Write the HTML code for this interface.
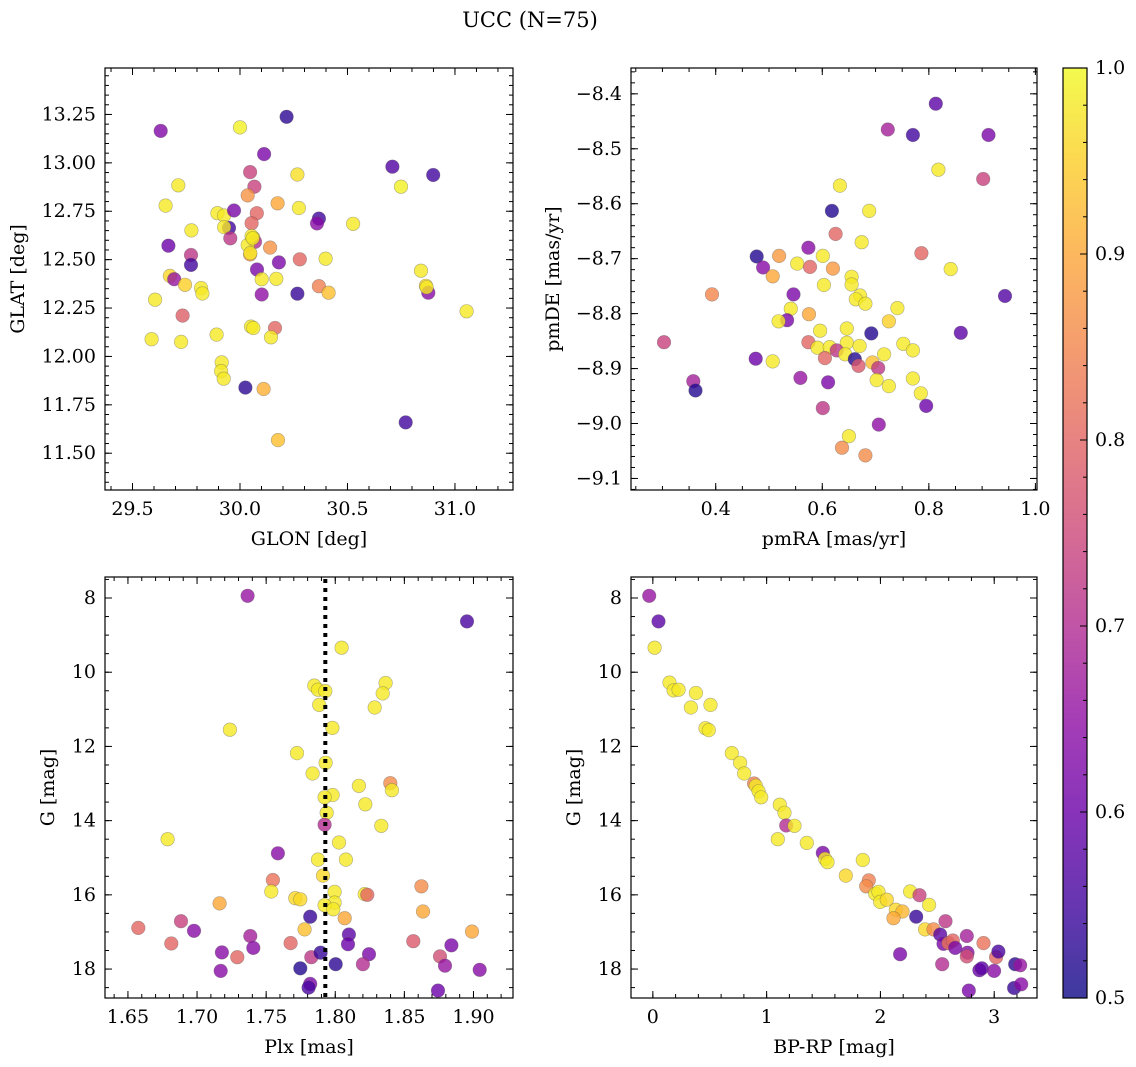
<!DOCTYPE html>
<html><head><meta charset="utf-8"><style>
html,body{margin:0;padding:0;background:#fff}
svg{display:block;font-family:"DejaVu Serif","Liberation Serif",serif}
</style></head><body>
<svg id="fig" width="1136" height="1067" viewBox="0 0 1136 1067" xmlns="http://www.w3.org/2000/svg">
<defs>
<linearGradient id="cbgrad" x1="0" y1="1" x2="0" y2="0">
<stop offset="0" stop-color="#0d0887"/><stop offset="0.1" stop-color="#41049d"/><stop offset="0.2" stop-color="#6a00a8"/><stop offset="0.3" stop-color="#8f0da4"/><stop offset="0.4" stop-color="#b12a90"/><stop offset="0.5" stop-color="#cc4778"/><stop offset="0.6" stop-color="#e16462"/><stop offset="0.7" stop-color="#f2844b"/><stop offset="0.8" stop-color="#fca636"/><stop offset="0.9" stop-color="#fcce25"/><stop offset="1" stop-color="#f0f921"/>
</linearGradient>
</defs>
<text x="530" y="27" font-size="21" text-anchor="middle">UCC (N=75)</text>
</svg>
<script>
// ---- Panel 1 data: GLON / GLAT / probability
const p1Lon=[29.631,30.000,30.217,30.112,30.709,30.899,30.749,30.267,30.047,30.067,30.036,30.175,29.713,29.654,30.274,29.895,29.926,29.972,30.078,30.054,30.367,30.358,30.526,29.949,29.926,29.774,29.955,30.062,30.070,30.036,30.140,30.047,30.048,29.667,29.772,29.772,30.181,30.278,30.398,30.079,30.101,30.169,29.674,29.694,29.744,29.819,29.825,30.101,30.267,30.367,30.412,30.842,30.865,30.876,29.605,31.054,29.733,29.589,29.726,29.891,30.051,30.062,30.163,30.144,29.915,29.912,29.924,30.025,30.110,30.771,30.177,30.054,30.059,30.868];
const p1Lat=[13.165,13.183,13.238,13.045,12.980,12.937,12.877,12.940,12.952,12.877,12.832,12.791,12.884,12.779,12.767,12.740,12.728,12.754,12.740,12.688,12.712,12.687,12.685,12.664,12.668,12.651,12.610,12.613,12.592,12.575,12.562,12.527,12.534,12.572,12.524,12.473,12.486,12.502,12.505,12.449,12.399,12.401,12.416,12.399,12.370,12.353,12.325,12.320,12.324,12.363,12.329,12.443,12.365,12.329,12.293,12.233,12.211,12.089,12.075,12.113,12.154,12.147,12.147,12.099,11.969,11.924,11.885,11.839,11.832,11.659,11.568,12.622,12.610,12.357];
const p1Prob=[0.63,0.99,0.53,0.62,0.57,0.55,0.99,0.97,0.74,0.74,0.87,0.90,0.98,0.98,0.98,0.98,0.98,0.62,0.80,0.80,0.55,0.64,0.98,0.55,0.98,0.98,0.72,0.96,0.70,0.98,0.87,0.88,0.98,0.60,0.72,0.55,0.62,0.80,0.98,0.62,0.98,0.98,0.96,0.66,0.95,0.98,0.98,0.65,0.54,0.84,0.93,0.98,0.96,0.64,0.98,0.98,0.79,0.98,0.98,0.98,0.98,0.98,0.80,0.98,0.98,0.98,0.98,0.53,0.91,0.55,0.93,0.98,0.98,0.98];
// ---- Panel 2 data: pmRA / pmDE / probability
const p2Ra=[0.813,0.723,0.770,0.912,0.818,0.902,0.633,0.618,0.688,0.625,0.674,0.574,0.786,0.477,0.519,0.601,0.553,0.577,0.489,0.620,0.841,0.507,0.655,0.655,0.603,0.393,0.546,0.943,0.671,0.663,0.681,0.741,0.541,0.575,0.534,0.518,0.725,0.596,0.646,0.692,0.860,0.574,0.752,0.770,0.646,0.670,0.303,0.591,0.614,0.627,0.643,0.716,0.475,0.507,0.605,0.661,0.668,0.694,0.705,0.559,0.611,0.702,0.725,0.770,0.358,0.362,0.785,0.795,0.601,0.706,0.650,0.637,0.681];
const p2De=[-8.418,-8.465,-8.475,-8.475,-8.538,-8.555,-8.567,-8.613,-8.613,-8.655,-8.670,-8.680,-8.690,-8.696,-8.695,-8.695,-8.709,-8.715,-8.716,-8.718,-8.719,-8.732,-8.733,-8.747,-8.748,-8.765,-8.765,-8.768,-8.767,-8.774,-8.782,-8.790,-8.791,-8.801,-8.812,-8.814,-8.814,-8.831,-8.827,-8.836,-8.835,-8.852,-8.855,-8.867,-8.853,-8.859,-8.852,-8.862,-8.861,-8.867,-8.874,-8.874,-8.882,-8.887,-8.881,-8.883,-8.895,-8.889,-8.899,-8.917,-8.925,-8.921,-8.932,-8.918,-8.923,-8.940,-8.945,-8.968,-8.972,-9.002,-9.023,-9.044,-9.058];
const p2Prob=[0.58,0.68,0.55,0.62,0.98,0.74,0.98,0.52,0.98,0.80,0.98,0.64,0.80,0.52,0.88,0.98,0.98,0.80,0.64,0.88,0.98,0.90,0.98,0.98,0.98,0.85,0.62,0.57,0.98,0.98,0.98,0.98,0.98,0.90,0.62,0.98,0.95,0.98,0.98,0.52,0.58,0.80,0.98,0.98,0.98,0.98,0.74,0.98,0.98,0.72,0.98,0.98,0.60,0.98,0.80,0.52,0.78,0.93,0.72,0.66,0.62,0.98,0.98,0.98,0.68,0.52,0.98,0.60,0.72,0.65,0.98,0.86,0.86];
// ---- Panel 3 data: Plx / G / probability
const p3Plx=[1.7366,1.8953,1.8046,1.7848,1.7875,1.7928,1.7884,1.8364,1.8343,1.8285,1.7979,1.7238,1.7723,1.7930,1.7836,1.8171,1.8398,1.8410,1.7981,1.7923,1.8217,1.7938,1.7923,1.8333,1.6787,1.8027,1.7585,1.8077,1.7875,1.7911,1.7549,1.7537,1.8623,1.7995,1.8213,1.8232,1.7711,1.7747,1.7163,1.7995,1.7923,1.7986,1.8635,1.8068,1.7819,1.6884,1.6575,1.6978,1.7778,1.8989,1.8099,1.7385,1.6814,1.7407,1.7677,1.8092,1.8565,1.8840,1.7180,1.7291,1.7827,1.7894,1.8244,1.8758,1.7747,1.8003,1.8200,1.8794,1.7171,1.9045,1.7819,1.7807,1.8743];
const p3G=[7.94,8.63,9.34,10.36,10.47,10.51,10.88,10.29,10.57,10.95,11.50,11.55,12.18,12.44,12.73,13.06,12.99,13.18,13.31,13.37,13.56,13.79,14.11,14.14,14.50,14.59,14.88,15.05,15.05,15.48,15.60,15.91,15.77,15.92,15.98,16.00,16.09,16.12,16.23,16.21,16.28,16.39,16.45,16.63,16.59,16.71,16.89,16.97,16.93,16.99,17.07,17.11,17.31,17.43,17.30,17.33,17.25,17.36,17.55,17.68,17.68,17.56,17.60,17.66,17.98,17.87,17.87,17.91,18.05,18.02,18.40,18.50,18.58];
const p3Prob=[0.66,0.56,0.98,0.98,0.98,0.98,0.98,0.98,0.98,0.98,0.98,0.98,0.98,0.98,0.98,0.98,0.86,0.98,0.98,0.98,0.98,0.98,0.70,0.98,0.98,0.98,0.64,0.98,0.98,0.96,0.82,0.98,0.86,0.98,0.98,0.80,0.96,0.96,0.90,0.98,0.98,0.98,0.90,0.90,0.54,0.74,0.80,0.64,0.93,0.90,0.58,0.68,0.80,0.64,0.80,0.60,0.78,0.62,0.64,0.80,0.72,0.54,0.62,0.76,0.52,0.53,0.70,0.66,0.64,0.64,0.62,0.56,0.60];
const plxLine=[1.7928];
// ---- Panel 4 data: BP-RP / G / probability
const p4Col=[-0.032,0.050,0.015,0.146,0.182,0.226,0.378,0.334,0.507,0.463,0.492,0.694,0.767,0.803,0.890,0.905,0.929,0.952,1.116,1.157,1.172,1.245,1.098,1.353,1.494,1.514,1.535,1.845,1.696,1.898,1.875,1.954,1.983,1.998,2.056,2.261,2.343,2.428,2.135,2.194,2.115,2.314,2.572,2.393,2.466,2.525,2.759,2.554,2.598,2.636,2.657,2.906,2.765,2.759,3.017,3.037,2.173,2.543,2.870,2.891,2.999,3.184,3.228,3.175,3.237,2.777];
const p4G=[7.94,8.63,9.34,10.28,10.49,10.47,10.56,10.95,10.88,11.51,11.56,12.18,12.44,12.73,13.00,13.06,13.21,13.37,13.57,13.79,14.13,14.14,14.50,14.60,14.87,15.03,15.12,15.06,15.48,15.61,15.77,15.97,15.92,16.19,16.13,15.91,16.01,16.27,16.40,16.45,16.63,16.59,16.71,16.93,16.93,17.07,17.11,17.32,17.30,17.23,17.43,17.30,17.56,17.66,17.68,17.53,17.60,17.87,18.03,17.98,18.05,17.87,17.90,18.51,18.41,18.58];
const p4Prob=[0.66,0.58,0.98,0.98,0.98,0.98,0.98,0.98,0.98,0.98,0.98,0.98,0.98,0.98,0.84,0.98,0.98,0.98,0.98,0.98,0.70,0.98,0.98,0.98,0.62,0.98,0.98,0.98,0.96,0.84,0.86,0.98,0.98,0.98,0.96,0.98,0.74,0.98,0.96,0.92,0.90,0.54,0.72,0.96,0.86,0.58,0.68,0.62,0.82,0.80,0.62,0.82,0.64,0.76,0.80,0.56,0.62,0.70,0.60,0.58,0.64,0.53,0.66,0.54,0.64,0.62];
// ---- tick labels
const p1XTicks=[29.5,30.0,30.5,31.0];
const p1YTicks=[11.50,11.75,12.00,12.25,12.50,12.75,13.00,13.25];
const p2XTicks=[0.4,0.6,0.8,1.0];
const p2YTicks=[-8.4,-8.5,-8.6,-8.7,-8.8,-8.9,-9.0,-9.1];
const p3XTicks=[1.65,1.70,1.75,1.80,1.85,1.90];
const gTicks=[8,10,12,14,16,18];
const p4XTicks=[0,1,2,3];
const cbTicks=[0.5,0.6,0.7,0.8,0.9,1.0];

const NS="http://www.w3.org/2000/svg";
const svg=document.getElementById('fig');
const FS=19;
const stops=[[13,8,135],[65,4,157],[106,0,168],[143,13,164],[177,42,144],[204,71,120],[225,100,98],[242,132,75],[252,166,54],[252,206,37],[240,249,33]];
function plasma(p){let t=Math.max(0,Math.min(1,(p-0.5)/0.5))*10;let i=Math.min(9,Math.floor(t));let f=t-i;const a=stops[i],b=stops[i+1];return 'rgb('+a.map((v,k)=>Math.round(v+(b[k]-v)*f)).join(',')+')';}
function mk(tag,attrs,parent){const e=document.createElementNS(NS,tag);for(const k in attrs)e.setAttribute(k,attrs[k]);(parent||svg).appendChild(e);return e;}
function lin(d0,d1,r0,r1){return v=>r0+(v-d0)*(r1-r0)/(d1-d0);}
function fmt(v,dec){return (v<0?'\u2212':'')+Math.abs(v).toFixed(dec);}

function panel(cfg){
  const g=mk('g',{});
  
  
  const L=cfg.L,R=cfg.R,T=cfg.T,B=cfg.B;
  const sx=lin(cfg.xd[0],cfg.xd[1],L,R), sy=lin(cfg.yd[0],cfg.yd[1],T,B);
  const pg=mk('g',{},g);
  
  
  for(let i=0;i<cfg.xs.length;i++){
    const c=mk('circle',{cx:sx(cfg.xs[i]).toFixed(1),cy:sy(cfg.ys[i]).toFixed(1),r:6.8,fill:plasma(cfg.ps[i]),'fill-opacity':0.8,stroke:'#555','stroke-opacity':0.45,'stroke-width':0.6},pg);
    
    
  }
  if(cfg.vline){for(const v of cfg.vline){const l=mk('line',{x1:sx(v),x2:sx(v),y1:T+2,y2:B,stroke:'#000','stroke-width':4,'stroke-dasharray':'4 5'},g);
    
    }}
  const tg=mk('g',{stroke:'#000','stroke-width':1},g);
  const lo=Math.min(cfg.xd[0],cfg.xd[1]),hi=Math.max(cfg.xd[0],cfg.xd[1]);
  for(let k=Math.ceil(lo/cfg.xminor-1e-6);k*cfg.xminor<=hi+1e-9;k++){const x=sx(k*cfg.xminor);mk('line',{x1:x,x2:x,y1:B,y2:B-4},tg);mk('line',{x1:x,x2:x,y1:T,y2:T+4},tg);}
  const ylo=Math.min(cfg.yd[0],cfg.yd[1]),yhi=Math.max(cfg.yd[0],cfg.yd[1]);
  for(let k=Math.ceil(ylo/cfg.yminor-1e-6);k*cfg.yminor<=yhi+1e-9;k++){const y=sy(k*cfg.yminor);mk('line',{x1:L,x2:L+4,y1:y,y2:y},tg);mk('line',{x1:R,x2:R-4,y1:y,y2:y},tg);}
  for(const v of cfg.xt){const x=sx(v);mk('line',{x1:x,x2:x,y1:B,y2:B-7},tg);mk('line',{x1:x,x2:x,y1:T,y2:T+7},tg);
    const t=mk('text',{x:x,y:B+25,'font-size':FS,'text-anchor':'middle'},g);t.textContent=fmt(v,cfg.xdec);
    
    }
  for(const v of cfg.yt){const y=sy(v);mk('line',{x1:L,x2:L+7,y1:y,y2:y},tg);mk('line',{x1:R,x2:R-7,y1:y,y2:y},tg);
    const t=mk('text',{x:L-9,y:y+6,'font-size':FS,'text-anchor':'end'},g);t.textContent=fmt(v,cfg.ydec);
    
    }
  const fr=mk('rect',{x:L,y:T,width:R-L,height:B-T,fill:'none',stroke:'#000','stroke-width':1.2},g);
  
  
  const xl=mk('text',{x:(L+R)/2,y:B+55,'font-size':FS,'text-anchor':'middle'},g);xl.textContent=cfg.xlab;
  
  
  const yl=mk('text',{x:cfg.ylx,y:(T+B)/2,'font-size':FS,'text-anchor':'middle',transform:'rotate(-90 '+cfg.ylx+' '+(T+B)/2+')'},g);yl.textContent=cfg.ylab;
  
  
}
panel({name:'glon-glat-panel',L:105,R:513,T:68,B:490,xd:[29.372,31.27],yd:[13.49,11.31],xs:p1Lon,ys:p1Lat,ps:p1Prob,xt:p1XTicks,yt:p1YTicks,xdec:1,ydec:2,xminor:0.1,yminor:0.05,xlab:'GLON [deg]',ylab:'GLAT [deg]',ylx:24});
panel({name:'pm-panel',L:631,R:1037,T:68,B:490,xd:[0.241,1.003],yd:[-8.353,-9.121],xs:p2Ra,ys:p2De,ps:p2Prob,xt:p2XTicks,yt:p2YTicks,xdec:1,ydec:1,xminor:0.05,yminor:0.02,xlab:'pmRA [mas/yr]',ylab:'pmDE [mas/yr]',ylx:559});
panel({name:'plx-g-panel',L:105,R:513,T:577,B:998,xd:[1.6334,1.9286],yd:[7.434,18.78],xs:p3Plx,ys:p3G,ps:p3Prob,xt:p3XTicks,yt:gTicks,xdec:2,ydec:0,xminor:0.01,yminor:0.5,xlab:'Plx [mas]',ylab:'G [mag]',ylx:54,vline:plxLine});
panel({name:'cmd-panel',L:631,R:1037,T:577,B:998,xd:[-0.192,3.376],yd:[7.434,18.78],xs:p4Col,ys:p4G,ps:p4Prob,xt:p4XTicks,yt:gTicks,xdec:0,ydec:0,xminor:0.2,yminor:0.5,xlab:'BP-RP [mag]',ylab:'G [mag]',ylx:580});
const cb=mk('g',{});


const cT=68,cB=998,cL=1063,cR=1087;const cy=lin(0.5,1.0,cB,cT);
mk('rect',{x:cL,y:cT,width:cR-cL,height:cB-cT,fill:'url(#cbgrad)','fill-opacity':0.8},cb);
mk('rect',{x:cL,y:cT,width:cR-cL,height:cB-cT,fill:'none',stroke:'#000','stroke-width':1.2},cb);
for(let k=25;k<=50;k++){const y=cy(k*0.02);mk('line',{x1:cR,x2:cR-4,y1:y,y2:y,stroke:'#000'},cb);}
for(const v of cbTicks){const y=cy(v);mk('line',{x1:cR,x2:cR-7,y1:y,y2:y,stroke:'#000'},cb);
  const t=mk('text',{x:1095,y:y+6,'font-size':FS},cb);t.textContent=v.toFixed(1);
  
  }
</script>
</body></html>
